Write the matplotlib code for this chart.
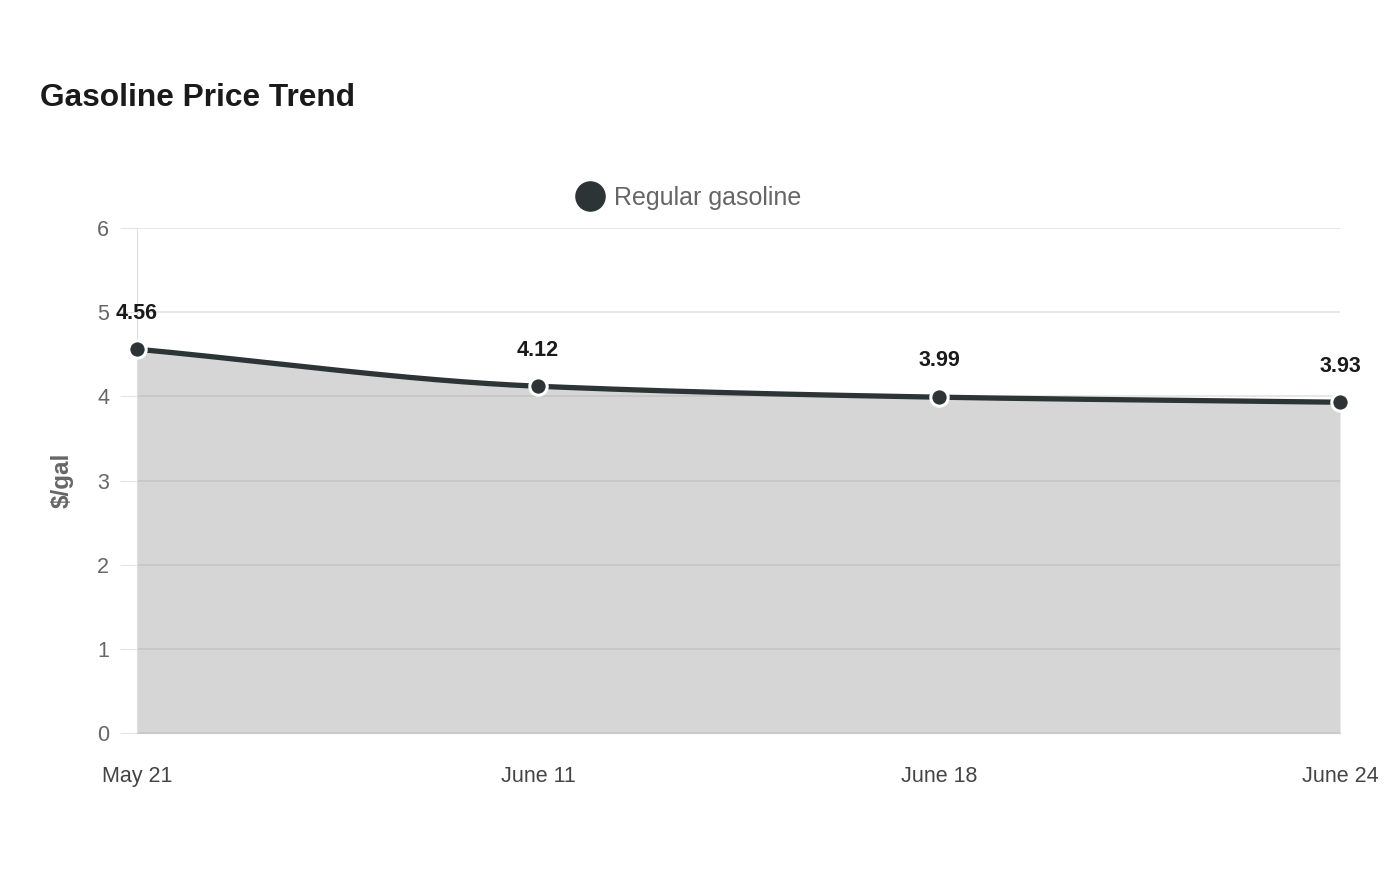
import numpy as np
import matplotlib
matplotlib.use("Agg")
import matplotlib.pyplot as plt
from matplotlib.lines import Line2D

plt.rcParams['font.family'] = ['Liberation Sans', 'DejaVu Sans']

categories = ["May 21", "June 11", "June 18", "June 24"]
prices = [4.56, 4.12, 3.99, 3.93]
series_name = "Regular gasoline"
title = "Gasoline Price Trend"
y_label = "$/gal"
y_ticks = [0, 1, 2, 3, 4, 5, 6]

LINE = "#2d3436"

def monotone_cubic(x, y, n=60):
    x = np.asarray(x, float); y = np.asarray(y, float)
    h = np.diff(x); d = np.diff(y) / h
    m = np.zeros_like(y)
    m[0] = d[0]; m[-1] = d[-1]
    for i in range(1, len(y) - 1):
        if d[i - 1] * d[i] <= 0:
            m[i] = 0
        else:
            w1 = 2 * h[i] + h[i - 1]; w2 = h[i] + 2 * h[i - 1]
            m[i] = (w1 + w2) / (w1 / d[i - 1] + w2 / d[i])
    xs, ys = [], []
    for i in range(len(h)):
        t = np.linspace(0, 1, n)
        h00 = 2*t**3 - 3*t**2 + 1; h10 = t**3 - 2*t**2 + t
        h01 = -2*t**3 + 3*t**2; h11 = t**3 - t**2
        xs.append(x[i] + t * h[i])
        ys.append(h00*y[i] + h10*h[i]*m[i] + h01*y[i+1] + h11*h[i]*m[i+1])
    return np.concatenate(xs), np.concatenate(ys)

fig = plt.figure(figsize=(14, 8.8), dpi=100)
ax = fig.add_axes([137/1400, 1 - 733/880, (1340 - 137)/1400, (733 - 228)/880])

xi = np.arange(len(categories))
xs, ys = monotone_cubic(xi, prices)
ax.fill_between(xs, 0, ys, color='#999999', alpha=0.4, zorder=2, linewidth=0)
ax.plot(xs, ys, color=LINE, lw=3.8, zorder=3, solid_capstyle='butt')
ax.plot(xi, prices, 'o', ms=12.5, mfc=LINE, mec='white', mew=2.2, zorder=4, clip_on=False)

for x, v in zip(xi, prices):
    ax.annotate(f"{v:.2f}", (x, v), xytext=(0, 18.5), textcoords='offset points',
                ha='center', va='bottom', fontsize=15.5, fontweight='bold',
                color='#1a1a1a', zorder=5, annotation_clip=False)

ax.set_xlim(0, len(categories) - 1)
ax.set_ylim(0, 6)
ax.set_yticks(y_ticks)
ax.set_xticks(xi)
ax.set_xticklabels(categories)
ax.grid(axis='y', color='#e4e4e4', lw=1.2, zorder=1)
ax.set_axisbelow(True)
for s in ['top', 'right']:
    ax.spines[s].set_visible(False)
ax.spines['left'].set_color('#dedede')
ax.spines['bottom'].set_color('#cccccc')
ax.spines['bottom'].set_zorder(2.5)
ax.tick_params(axis='y', length=12, color='#e4e4e4', labelsize=15.5, labelcolor='#666666', pad=8)
ax.tick_params(axis='x', length=0, labelsize=15.5, labelcolor='#444444', pad=24)

fig.text(62/1400, 1 - 480/880, y_label, rotation=90, fontsize=17.5, fontweight='bold',
         color='#666666', ha='center', va='center')

fig.text(40/1400, 1 - 98/880, title, fontsize=22.8, fontweight='bold', color='#1a1a1a',
         ha='left', va='center')

fig.add_artist(Line2D([590/1400], [1 - 196/880], transform=fig.transFigure, marker='o',
                      ms=21, mfc=LINE, mec=LINE, ls='none'))
fig.text(614/1400, 1 - 198/880, series_name, fontsize=18, color='#666666',
         ha='left', va='center')

fig.savefig("out.png", dpi=100, facecolor='white')
